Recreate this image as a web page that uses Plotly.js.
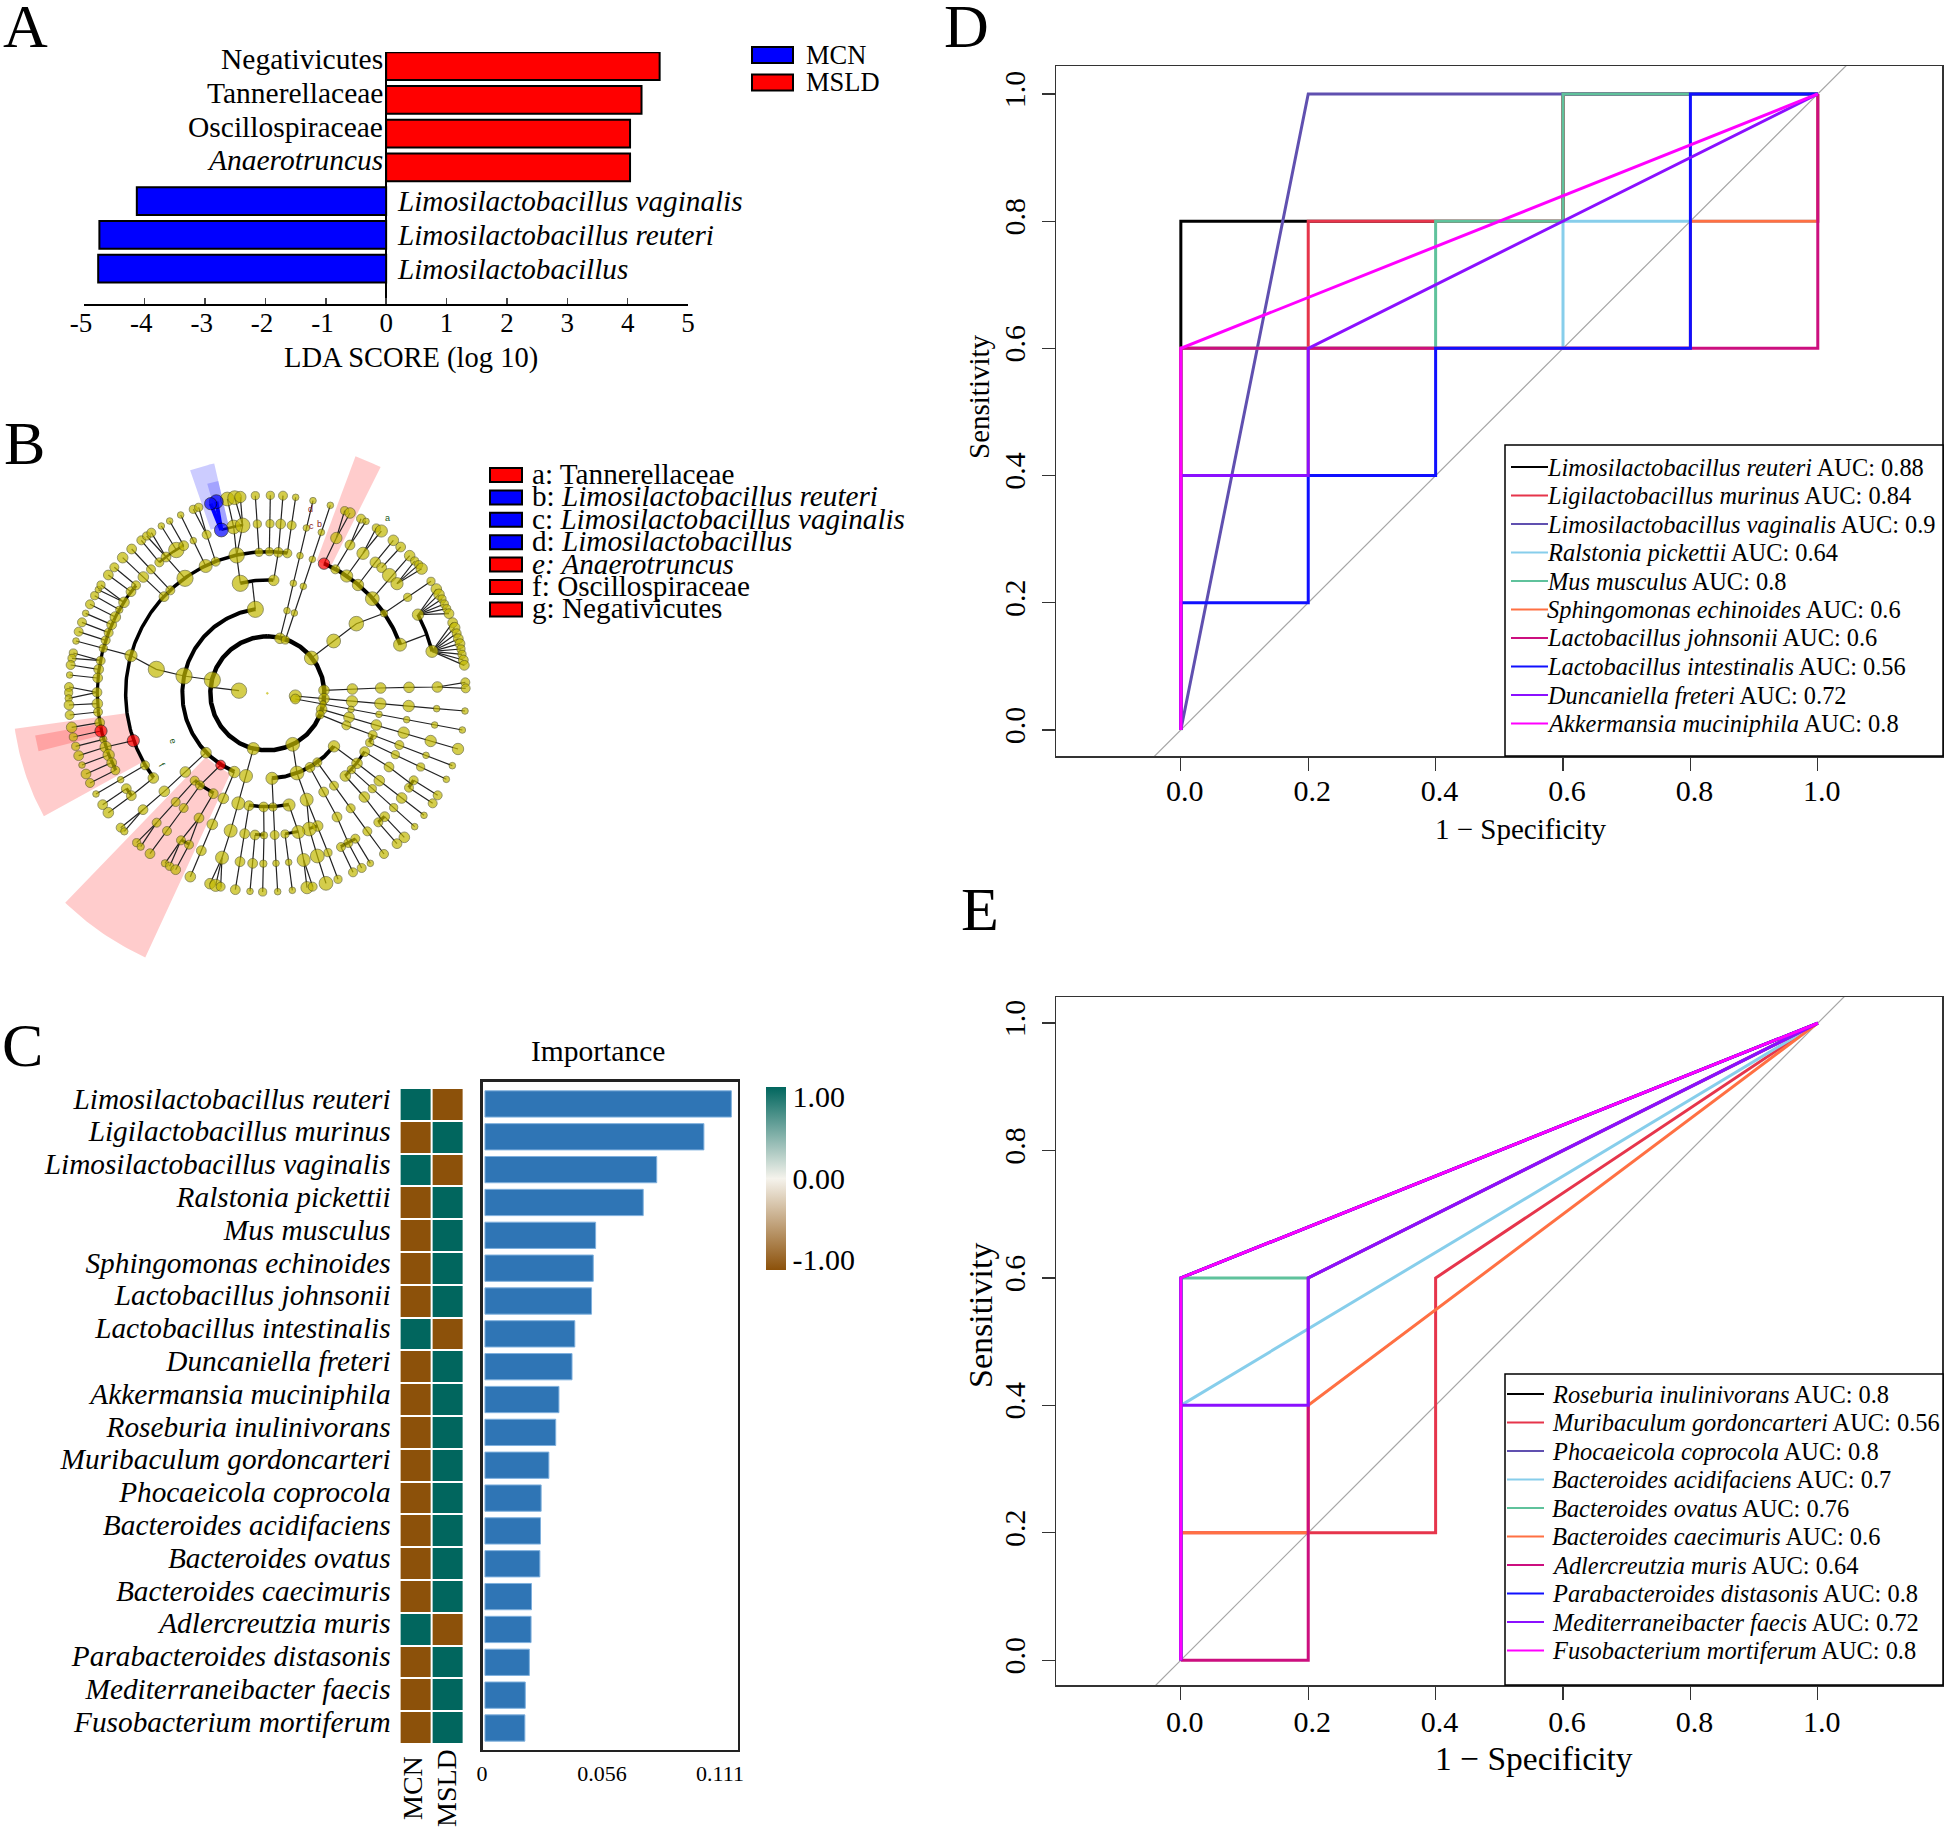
<!DOCTYPE html>
<html><head><meta charset="utf-8"><script src="https://cdn.plot.ly/plotly-3.0.1.min.js"></script>
<style>html,body{margin:0;padding:0;background:#fff}#g{width:1944px;height:1832px}</style></head>
<body><div id="g"></div>
<script>
// ---------- Panel A : LDA scores
const ldaTaxa=['Negativicutes','Tannerellaceae','Oscillospiraceae','Anaerotruncus','Limosilactobacillus vaginalis','Limosilactobacillus reuteri','Limosilactobacillus'];
const ldaScores=[4.53,4.23,4.04,4.04,-4.13,-4.75,-4.77];
const ldaItalic=[false,false,false,true,true,true,true];
const ldaGroups=['MCN','MSLD'];
const ldaColors=['#0000FF','#FF0000'];
const ldaTicks=[-5,-4,-3,-2,-1,0,1,2,3,4,5];
// ---------- Panel B : cladogram legend
const cladoKeys=['a: Tannerellaceae','b: <i>Limosilactobacillus reuteri</i>','c: <i>Limosilactobacillus vaginalis</i>','d: <i>Limosilactobacillus</i>','<i>e: Anaerotruncus</i>','f: Oscillospiraceae','g: Negativicutes'];
const cladoKeyColors=['#FF0000','#0000FF','#0000FF','#0000FF','#FF0000','#FF0000','#FF0000'];
// cladogram nodes [x,y,diameter], read per image quadrant
const nodesQ1=[[601,47,18],[607,132,18],[612,217,18],[517,57,32],[539,53,32],[556,51,26],[536,141,32],[563,136,34],[545,226,36],[556,310,38],[601,388,38],[387,588,38],[472,600,38],[552,632,36],[304,568,38],[228,527,28],[145,505,18],[63,483,14],[71,455,20],[152,481,20],[81,427,20],[161,458,20],[92,400,14],[170,434,22],[105,373,20],[181,411,24],[119,347,18],[193,389,16],[130,329,14],[138,315,18],[207,367,24],[160,285,22],[228,335,22],[178,262,20],[243,316,20],[203,233,24],[265,291,24],[327,350,22],[230,207,22],[288,268,20],[346,331,20],[259,181,20],[275,168,18],[289,158,20],[313,247,20],[333,231,22],[364,210,36],[386,197,22],[319,138,14],[344,123,14],[390,295,38],[377,105,14],[415,182,14],[452,258,30],[415,88,18],[431,82,18],[455,164,20],[482,245,20],[55,519,18],[51,535,18],[47,555,20],[137,542,20],[131,568,22],[44,585,14],[128,594,22],[42,621,20],[41,638,18],[126,637,22]];
const nodesQ2=[[16,46,18],[15,131,18],[13,215,18],[54,47,20],[47,132,22],[40,217,22],[92,52,14],[80,136,20],[67,220,20],[26,301,24],[144,62,14],[124,144,14],[105,227,14],[85,310,14],[66,392,14],[45,475,24],[196,76,14],[169,157,14],[142,238,14],[115,319,14],[88,399,14],[61,480,18],[139,534,32],[177,631,24],[214,174,26],[239,92,18],[255,99,24],[211,268,20],[255,195,22],[288,116,20],[303,124,14],[245,288,28],[294,220,28],[334,144,18],[349,153,28],[279,315,26],[331,247,24],[385,181,24],[350,263,22],[407,201,22],[373,286,32],[434,227,24],[396,311,28],[449,243,18],[461,254,18],[470,266,26],[322,356,32],[357,400,16],[428,352,18],[498,304,18],[206,483,32],[274,431,34],[405,494,30],[459,404,26],[501,514,28],[262,627,24],[347,624,24],[432,622,24],[517,621,24],[601,607,20],[602,625,20]];
const fanA=[[514,327,24],[522,343,24],[531,357,18],[538,372,18],[545,386,18],[552,401,22]];
const fanB=[[563,428,22],[569,443,24],[575,460,20],[580,476,22],[585,491,22],[588,507,18],[591,523,18],[595,540,22],[598,556,22]];
const nodesQ3=[[41,25,16],[42,45,22],[127,41,24],[44,75,20],[129,66,20],[50,112,24],[134,98,22],[55,141,18],[62,169,18],[145,148,16],[71,197,22],[152,171,26],[81,225,14],[161,195,26],[93,252,22],[170,218,22],[105,279,20],[181,241,20],[270,226,20],[295,264,24],[197,269,14],[123,312,14],[214,296,22],[229,317,22],[143,344,22],[160,368,24],[453,188,24],[538,246,26],[595,176,28],[391,246,24],[328,304,24],[264,359,22],[197,413,20],[208,424,16],[419,272,20],[435,286,20],[475,311,22],[362,336,20],[305,398,20],[245,458,18],[257,470,16],[386,354,20],[336,423,20],[285,491,22],[432,384,22],[378,451,20],[402,464,20],[330,520,16],[344,529,18],[362,539,22],[505,325,24],[472,403,24],[439,482,22],[406,560,24],[573,258,30],[550,340,30],[527,422,30],[501,503,30],[465,581,24],[482,586,28],[497,590,20],[582,347,22],[626,351,22],[569,431,22],[555,515,22],[541,599,22],[627,436,16],[625,521,16],[623,606,18],[600,435,22],[593,520,22],[585,604,14]];
const nodesQ4=[[91,18,28],[91,27,22],[177,26,24],[174,42,14],[170,58,24],[165,74,18],[83,163,32],[261,34,26],[346,41,26],[431,48,26],[515,56,14],[600,63,14],[258,58,14],[342,73,14],[425,89,14],[509,105,14],[592,120,14],[252,82,24],[334,105,24],[416,128,26],[497,153,26],[579,177,26],[244,106,20],[323,135,20],[403,165,20],[483,196,14],[562,227,14],[314,158,18],[391,194,18],[467,231,18],[544,268,14],[299,185,22],[276,220,24],[259,239,18],[241,258,24],[207,169,26],[21,265,28],[96,249,32],[135,232,22],[157,217,20],[125,329,30],[158,408,24],[189,488,18],[219,568,18],[133,417,32],[157,498,32],[183,580,32],[24,351,18],[72,345,28],[29,435,20],[33,520,14],[38,605,14],[100,426,30],[116,510,30],[126,593,28],[143,590,20],[60,432,18],[71,517,14],[82,601,14],[176,306,22],[216,381,22],[250,459,20],[228,471,20],[271,446,20],[264,547,20],[290,534,20],[316,520,14],[207,287,20],[257,355,20],[307,424,20],[357,492,20],[298,321,24],[359,380,22],[340,397,20],[418,442,24],[396,461,22],[322,296,18],[386,353,18],[449,410,14],[343,272,24],[410,324,24],[477,376,14],[372,231,22],[446,271,20],[432,293,20],[518,316,20],[503,340,20]];
// branches as polylines
const chainsQ1=[[601,47,607,132,612,217],[517,57,536,141,545,226,556,310],[539,53,563,136,545,226],[556,51,563,136],[601,388,592,308],[228,527,304,568,387,588,472,600],[63,483,145,505,228,527],[552,632,472,622],[71,455,152,481],[81,427,161,458],[92,400,170,434],[105,373,181,411],[119,347,193,389],[130,329,207,367],[138,315,207,367],[160,285,228,335],[178,262,243,316],[203,233,265,291,327,350],[230,207,288,268,346,331],[259,181,313,247],[275,168,333,231],[289,158,333,231,390,295],[319,138,364,210],[344,123,386,197],[377,105,415,182,452,258],[415,88,455,164,482,245],[431,82,455,164],[55,519,137,542],[51,535,137,542],[47,555,131,568],[44,585,128,594],[42,621,126,637],[41,655,126,637]];
const chainsQ2=[[16,46,15,131,13,215],[54,47,47,132,40,217,26,301],[92,52,80,136,67,220],[144,62,124,144,105,227,85,310,66,392,45,475],[196,76,169,157,142,238,115,319,88,399,61,480],[177,251,214,174,239,92],[214,174,255,99],[211,268,255,195,288,116],[255,195,303,124],[245,288,294,220,334,144],[294,220,349,153],[279,315,331,247,385,181],[350,263,407,201],[322,356,434,227],[396,311,449,243],[396,311,461,254],[396,311,470,266],[139,534,206,483,274,431,357,400,428,352,498,304],[405,494,484,464],[177,631,262,627,347,624,432,622,517,621,601,607],[517,621,602,625]];
const chainsQ3=[[42,45,127,41],[44,75,129,66],[50,112,134,98],[55,141,138,123],[62,169,145,148],[71,197,152,171,235,152],[81,225,161,195],[93,252,170,218],[105,279,181,241],[123,312,197,269,270,226],[143,344,214,296],[160,368,229,317,295,264],[595,176,573,258,550,340,527,422,501,503,465,581],[501,503,482,586],[501,503,497,590],[453,188,391,246,328,304,264,359,197,413],[264,359,208,424],[497,225,435,286,386,354,336,423,285,491],[419,272,362,336,305,398,245,458],[305,398,257,470],[475,311,432,384,402,464,362,539],[432,384,378,451,330,520],[378,451,344,529],[538,246,505,325,472,403,439,482,406,560],[582,347,569,431,555,515,541,599],[626,351,627,436,625,521,623,606],[600,435,593,520,585,604]];
const chainsQ4=[[177,26,261,34,346,41,431,48,515,56,600,63],[174,42,258,58,342,73,425,89,509,105,592,120],[170,58,252,82,334,105,416,128,497,153,579,177],[165,74,244,106,323,135,403,165,483,196,562,227],[91,18,177,26],[91,27,174,42],[314,158,391,194,467,231,544,268],[83,163,96,249,125,329,158,408,189,488,219,568],[125,329,133,417,157,498,183,580],[21,265,24,351,29,435,33,520,38,605],[72,345,100,426,116,510,126,593],[116,510,143,590],[60,432,71,517,82,601],[135,232,176,306,216,381,250,459,290,534],[228,471,264,547],[271,446,316,520],[157,217,207,287,257,355,307,424,357,492],[207,169,276,220],[241,258,298,321,350,389],[359,380,418,442],[340,397,396,461],[259,239,322,296,386,353,449,410],[276,220,343,272,410,324,477,376],[299,185,372,231,439,282],[446,271,518,316],[432,293,503,340]];
const blueNodes=[[484,65,32],[467,71,28],[499,150,32]];
const blueChains=[[499,150,484,65],[499,150,467,71]];
const redNodes=[[807,251,26],[138,753,28],[235,782,28],[497,855,22]];
// thick ring arcs: radius, start deg, end deg, width (deg clockwise from 12 o'clock)
const arcRadius=[171,255,255,340,340,340,340,340,425,425,425,425,425,510,510,510,510,510,510,510,510,510];
const arcStart=[0,202.8,128.5,346.2,208.3,169,111.6,120.9,233.4,23.6,181.3,167.4,159.2,148.8,136.4,120.7,207.4,233.1,243.1,320.5,344.3,62.4];
const arcEnd=[360,352,176.9,363,219.8,189.3,115.7,136.7,368.1,69.9,185,172.8,162.8,154.4,139.3,123.7,210.4,236,309.4,330.5,351.6,75.7];
const arcWidth=[4.5,4,4,3.5,3.5,3.5,3,3,3.5,4,3,3,3,3,3,3,3,3,3.2,2.5,2.5,3.5];
// shaded sectors
const wedgeStart=[340.9,20.4,241.2,204.8,344,255.8];
const wedgeEnd=[347,26.6,262,224,347,259.7];
const wedgeInner=[519,424,429,265,519,510];
const wedgeOuter=[708,759,765,873,654,708];
const wedgeColor=['rgba(0,0,255,0.2)','rgba(255,0,0,0.2)','rgba(255,0,0,0.2)','rgba(255,0,0,0.2)','rgba(0,0,255,0.2)','rgba(255,0,0,0.2)'];
// ---------- Panel C
const impTaxa=['Limosilactobacillus reuteri','Ligilactobacillus murinus','Limosilactobacillus vaginalis','Ralstonia pickettii','Mus musculus','Sphingomonas echinoides','Lactobacillus johnsonii','Lactobacillus intestinalis','Duncaniella freteri','Akkermansia muciniphila','Roseburia inulinivorans','Muribaculum gordoncarteri','Phocaeicola coprocola','Bacteroides acidifaciens','Bacteroides ovatus','Bacteroides caecimuris','Adlercreutzia muris','Parabacteroides distasonis','Mediterraneibacter faecis','Fusobacterium mortiferum'];
const impValues=[.1149,.1021,.0801,.0738,.0516,.0505,.0497,.0419,.0406,.0345,.0330,.0298,.0262,.0259,.0256,.0217,.0215,.0207,.0188,.0186];
const heatMCN=[1,-1,1,-1,-1,-1,-1,1,-1,-1,-1,-1,-1,-1,-1,-1,1,-1,-1,-1];
const heatMSLD=[-1,1,-1,1,1,1,1,-1,1,1,1,1,1,1,1,1,-1,1,1,1];
const heatCols=['MCN','MSLD'];
// ---------- Panel D
const rocColors=['#000000','#E6354B','#6050B0','#87CEEB','#5FC29C','#FF7043','#CC0F7F','#1010FF','#8B10FF','#FF00FF'];
const rocDNames=['Limosilactobacillus reuteri','Ligilactobacillus murinus','Limosilactobacillus vaginalis','Ralstonia pickettii','Mus musculus','Sphingomonas echinoides','Lactobacillus johnsonii','Lactobacillus intestinalis','Duncaniella freteri','Akkermansia muciniphila'];
const rocDAuc=[0.88,0.84,0.9,0.64,0.8,0.6,0.6,0.56,0.72,0.8];
const rocDFpr=[[0,0,.2,.6,.6,1],[0,0,.2,.2,.6,.6,1],[0,.2,1],[0,0,.2,.2,.6,.6,1,1],[0,0,.4,.4,.6,.6,1],[0,0,.2,.2,.8,.8,1,1],[0,0,1,1],[0,0,.2,.2,.4,.4,.8,.8,1],[0,0,.2,.2,1],[0,0,1]];
const rocDTpr=[[0,.8,.8,.8,1,1],[0,.6,.6,.8,.8,1,1],[0,1,1],[0,.4,.4,.6,.6,.8,.8,1],[0,.6,.6,.8,.8,1,1],[0,.4,.4,.6,.6,.8,.8,1],[0,.6,.6,1],[0,.2,.2,.4,.4,.6,.6,1,1],[0,.4,.4,.6,1],[0,.6,1]];
// ---------- Panel E
const rocENames=['Roseburia inulinivorans','Muribaculum gordoncarteri','Phocaeicola coprocola','Bacteroides acidifaciens','Bacteroides ovatus','Bacteroides caecimuris','Adlercreutzia muris','Parabacteroides distasonis','Mediterraneibacter faecis','Fusobacterium mortiferum'];
const rocEAuc=[0.8,0.56,0.8,0.7,0.76,0.6,0.64,0.8,0.72,0.8];
const rocEFpr=[[0,0,1],[0,0,.4,.4,1],[0,0,1],[0,0,1],[0,0,.2,1],[0,0,.2,.2,1],[0,.2,.2,1],[0,0,1],[0,0,.2,.2,1],[0,0,1]];
const rocETpr=[[0,.6,1],[0,.2,.2,.6,1],[0,.6,1],[0,.4,1],[0,.6,.6,1],[0,.2,.2,.4,1],[0,0,.6,1],[0,.6,1],[0,.4,.4,.6,1],[0,.6,1]];

// ---------- helpers
const W=1944,H=1832,FONT='Liberation Serif, Times New Roman, serif';
const domX=(a,b)=>[a/W,b/W], domY=(t,b)=>[1-b/H,1-t/H];
const annotations=[],shapes=[],traces=[];
function label(text,x,y,size,o){annotations.push(Object.assign({text,x:x/W,y:1-y/H,xref:'paper',yref:'paper',xanchor:'left',yanchor:'middle',showarrow:false,font:{family:FONT,size,color:'#000'}},o||{}));}
function rect(x0,y0,x1,y1,fill,lw){shapes.push({type:'rect',xref:'paper',yref:'paper',x0:x0/W,x1:x1/W,y0:1-y0/H,y1:1-y1/H,fillcolor:fill,line:{color:'#000',width:lw},layer:'above'});}
function hline(x0,x1,y,c){shapes.push({type:'line',xref:'paper',yref:'paper',x0:x0/W,x1:x1/W,y0:1-y/H,y1:1-y/H,line:{color:c,width:2.2},layer:'above'});}

// panel letters
[['A',1,26],['B',2,443],['C',0,1045],['D',942,26],['E',959,909]].forEach(p=>label(p[0],p[1],p[2],62));

// ---------- A
ldaGroups.forEach((g,k)=>{
  const idx=ldaScores.map((v,i)=>i).filter(i=>(ldaScores[i]<0)===(k===0));
  traces.push({type:'bar',orientation:'h',name:g,x:idx.map(i=>ldaScores[i]),y:idx.map(i=>ldaTaxa[i]),width:.82,xaxis:'x',yaxis:'y',marker:{color:ldaColors[k],line:{color:'#000',width:2}},showlegend:false});
  rect(752,47+k*27.5,793,63+k*27.5,ldaColors[k],2);
  label(g,804,55+k*27,26.5);
});
ldaTaxa.forEach((t,i)=>{const neg=ldaScores[i]<0;
  annotations.push({text:ldaItalic[i]?'<i>'+t+'</i>':t,x:0,y:t,xref:'x',yref:'y',xanchor:neg?'left':'right',yanchor:'middle',xshift:neg?9:-1,yshift:neg?0:7,showarrow:false,font:{family:FONT,size:neg?29.2:29.5,color:'#000'}});
});
label('LDA SCORE (log 10)',411,358,28.5,{xanchor:'center'});

// ---------- B
const Q={Q1:[0,0],Q2:[630,0],Q3:[0,630],Q4:[630,630]};
const shift=(arr,q)=>arr.map(n=>[n[0]+Q[q][0],n[1]+Q[q][1],n[2]]);
const CX=637,CY=640;
const polar=(r,deg)=>[CX+r*Math.sin(deg*Math.PI/180),CY-r*Math.cos(deg*Math.PI/180)];
wedgeStart.forEach((s,i)=>{
  const xs=[],ys=[];
  for(let k=0;k<=24;k++){const p=polar(wedgeOuter[i],s+(wedgeEnd[i]-s)*k/24);xs.push(p[0]);ys.push(p[1]);}
  for(let k=24;k>=0;k--){const p=polar(wedgeInner[i],s+(wedgeEnd[i]-s)*k/24);xs.push(p[0]);ys.push(p[1]);}
  xs.push(xs[0]);ys.push(ys[0]);
  traces.push({type:'scatter',mode:'lines',x:xs,y:ys,fill:'toself',fillcolor:wedgeColor[i],line:{width:0},xaxis:'x2',yaxis:'y2',hoverinfo:'skip',showlegend:false});
});
const allChains=[];
[[chainsQ1,'Q1'],[chainsQ2,'Q2'],[chainsQ3,'Q3'],[chainsQ4,'Q4']].forEach(([c,q])=>c.forEach(ch=>{const pts=[];for(let i=0;i<ch.length;i+=2)pts.push([ch[i]+Q[q][0],ch[i+1]+Q[q][1]]);allChains.push(pts);}));
fanA.forEach(n=>allChains.push([[459+630,404],[n[0]+630,n[1]]]));
fanB.forEach(n=>allChains.push([[501+630,514],[n[0]+630,n[1]]]));
const bx=[],by=[];allChains.forEach(p=>{p.forEach(a=>{bx.push(a[0]);by.push(a[1]);});bx.push(null);by.push(null);});
traces.push({type:'scatter',mode:'lines',x:bx,y:by,line:{color:'#222',width:1.2},xaxis:'x2',yaxis:'y2',hoverinfo:'skip',showlegend:false});
arcRadius.forEach((r,i)=>{
  const xs=[],ys=[],n=Math.max(4,Math.ceil(arcEnd[i]-arcStart[i]));
  for(let k=0;k<=n;k++){const p=polar(r,arcStart[i]+(arcEnd[i]-arcStart[i])*k/n);xs.push(p[0]);ys.push(p[1]);}
  traces.push({type:'scatter',mode:'lines',x:xs,y:ys,line:{color:'#000',width:arcWidth[i]},xaxis:'x2',yaxis:'y2',hoverinfo:'skip',showlegend:false});
});
const bcx=[],bcy=[];blueChains.forEach(c=>{bcx.push(c[0],c[2],null);bcy.push(c[1],c[3],null);});
traces.push({type:'scatter',mode:'lines',x:bcx,y:bcy,line:{color:'#0000FF',width:4},xaxis:'x2',yaxis:'y2',hoverinfo:'skip',showlegend:false});
const allNodes=[].concat(shift(nodesQ1,'Q1'),shift(nodesQ2,'Q2'),shift(fanA,'Q2'),shift(fanB,'Q2'),shift(nodesQ3,'Q3'),shift(nodesQ4,'Q4'));
function nodeTrace(a,color,lc){traces.push({type:'scatter',mode:'markers',x:a.map(n=>n[0]),y:a.map(n=>n[1]),marker:{color,size:a.map(n=>n[2]*.4+1),line:{color:lc,width:.8}},xaxis:'x2',yaxis:'y2',hoverinfo:'skip',showlegend:false});}
nodeTrace(allNodes,'#C2B800','#4a4a10');
nodeTrace(blueNodes,'#0000FF','#000');
nodeTrace(redNodes,'#FF0000','#000');
nodeTrace([[CX,CY,2]],'#C2B800','#C2B800');
[['a',997,113,'#1a5a1a',0],['d',767,88,'#8a1a1a',0],['c',768,138,'#8a1a1a',0],['b',792,132,'#8a1a1a',0],['e',353,784,'#1a5a1a',75],['f',320,856,'#1a5a1a',60]].forEach(l=>{
  annotations.push({text:l[0],x:l[1],y:l[2],xref:'x2',yref:'y2',showarrow:false,textangle:l[4],font:{family:'Liberation Sans, sans-serif',size:9,color:l[3]}});
});
cladoKeys.forEach((k,i)=>{const y=475+i*22.4;
  rect(490,y-7,522,y+7,cladoKeyColors[i],2);
  label(k,530,y-1,29.2);
});

// ---------- C
traces.push({type:'heatmap',x:heatCols,y:impTaxa,z:impTaxa.map((t,i)=>[heatMCN[i],heatMSLD[i]]),zmin:-1,zmax:1,xgap:2,ygap:2,xaxis:'x3',yaxis:'y3',
  colorscale:[[0,'#8C510A'],[.5,'#F5F3EC'],[1,'#01665E']],
  colorbar:{x:766/W,xanchor:'left',xpad:0,y:1-1178/H,yanchor:'middle',ypad:0,len:183,lenmode:'pixels',thickness:20,thicknessmode:'pixels',outlinewidth:0,tickvals:[.89,0,-.89],ticktext:['1.00','0.00','-1.00'],ticks:'',ticklabelposition:'outside',tickfont:{family:FONT,size:30,color:'#000'}},hoverinfo:'skip'});
traces.push({type:'bar',orientation:'h',x:impValues,y:impTaxa,width:.8,xaxis:'x4',yaxis:'y4',marker:{color:'#2F75B5',line:{color:'#7FB0DD',width:1}},showlegend:false,name:'Importance'});
label('Importance',598,1051,29.5,{xanchor:'center'});
heatCols.forEach((c,i)=>label(c,412+i*34,1788,28,{xanchor:'center',textangle:-90}));

// ---------- D & E
function roc(names,auc,fpr,tpr,xa,ya,boxT,rowY,swX,txtX,boxB){
  traces.push({type:'scatter',mode:'lines',x:[-.5,1.5],y:[-.5,1.5],line:{color:'#A6A6A6',width:1.2},xaxis:xa,yaxis:ya,hoverinfo:'skip',showlegend:false});
  names.forEach((n,i)=>traces.push({type:'scatter',mode:'lines',name:n,x:fpr[i],y:tpr[i],line:{color:rocColors[i],width:3},xaxis:xa,yaxis:ya,showlegend:false}));
  rect(1505,boxT,1943,boxB,'#FFFFFF',1.5);
  names.forEach((n,i)=>{const y=rowY+i*28.5;
    hline(swX,swX+37,y,rocColors[i]);
    label('<i>'+n+'</i> AUC: '+auc[i],txtX,y,24.4);
  });
}
roc(rocDNames,rocDAuc,rocDFpr,rocDTpr,'x5','y5',445,467,1511,1545,756);
roc(rocENames,rocEAuc,rocEFpr,rocETpr,'x6','y6',1374,1394,1507,1550,1685);
label('1 − Specificity',1520,829,29,{xanchor:'center'});
label('Sensitivity',979,397,29,{xanchor:'center',textangle:-90});
label('1 − Specificity',1534,1758,33.5,{xanchor:'center'});
label('Sensitivity',980,1316,34,{xanchor:'center',textangle:-90});

const tf=s=>({family:FONT,size:s,color:'#000'});
function rocAxes(letter,top,bot,yr,standoff){
  const ticks=[0,.2,.4,.6,.8,1];
  return [{domain:domX(1056,1942),range:[-.196,1.195],anchor:'y'+letter,tickvals:ticks,ticktext:ticks.map(v=>v.toFixed(1)),ticks:'outside',ticklen:13,tickwidth:1.3,tickcolor:'#333',showline:true,linecolor:'#333',linewidth:1.5,mirror:true,showgrid:false,zeroline:false,tickfont:tf(30),ticklabelshift:4,ticklabelstandoff:standoff},
          {domain:domY(top,bot),range:yr,anchor:'x'+letter,tickvals:ticks,ticktext:ticks.map(v=>v.toFixed(1)),ticks:'outside',ticklen:13,tickwidth:1.3,tickcolor:'#333',tickangle:-90,showline:true,linecolor:'#333',linewidth:1.5,mirror:true,showgrid:false,zeroline:false,tickfont:tf(30),ticklabelstandoff:5}];
}
const [x5,y5]=rocAxes('5',66,756,[-.041,1.044],-6);
const [x6,y6]=rocAxes('6',997,1685,[-.039,1.041],-4);

const layout={width:W,height:H,margin:{l:0,r:0,t:0,b:0,autoexpand:false},paper_bgcolor:'#fff',plot_bgcolor:'rgba(0,0,0,0)',showlegend:false,barmode:'overlay',font:{family:FONT},
  annotations,shapes,
  xaxis:{domain:domX(84.3,688),range:[-5,5],anchor:'y',tickvals:ldaTicks,ticktext:ldaTicks.map(v=>v<0?v+'\u00A0':String(v)),ticks:'inside',ticklen:6,tickwidth:1.5,showline:true,linecolor:'#000',linewidth:2,showgrid:false,zeroline:true,zerolinecolor:'#000',zerolinewidth:1.5,tickfont:tf(27),ticklabelstandoff:-6},
  yaxis:{domain:domY(52,304),type:'category',categoryorder:'array',categoryarray:ldaTaxa,range:[7.05,-.42],anchor:'x',visible:false},
  xaxis2:{domain:domX(5,485),range:[-150,1290],anchor:'y2',visible:false},
  yaxis2:{domain:domY(440,965),range:[1455,-120],anchor:'x2',visible:false},
  xaxis3:{domain:domX(399.6,464),anchor:'y3',type:'category',showticklabels:false,showgrid:false,zeroline:false,ticks:''},
  yaxis3:{domain:domY(1088,1744),anchor:'x3',type:'category',categoryorder:'array',categoryarray:impTaxa,autorange:'reversed',tickvals:impTaxa,ticktext:impTaxa.map(t=>'<i>'+t+'</i>'),tickfont:tf(29.3),showgrid:false,zeroline:false,ticks:'',ticklabelstandoff:8,ticklabelshift:6},
  xaxis4:{domain:domX(482.6,738),range:[-.0011,.118],anchor:'y4',tickvals:[0,.056,.111],ticktext:['0','0.056','0.111'],tickfont:tf(22),ticklabelshift:-3,ticklabelstandoff:2,showline:true,linecolor:'#222',linewidth:2.2,mirror:true,showgrid:false,zeroline:false,ticks:''},
  yaxis4:{domain:domY(1081.6,1750),type:'category',categoryorder:'array',categoryarray:impTaxa,range:[19.67,-.68],anchor:'x4',showticklabels:false,showline:true,linecolor:'#222',linewidth:2.2,mirror:true,showgrid:false,zeroline:false,ticks:''},
  xaxis5:x5,yaxis5:y5,xaxis6:x6,yaxis6:y6
};
Plotly.newPlot('g',traces,layout,{displayModeBar:false,staticPlot:true});
</script></body></html>
